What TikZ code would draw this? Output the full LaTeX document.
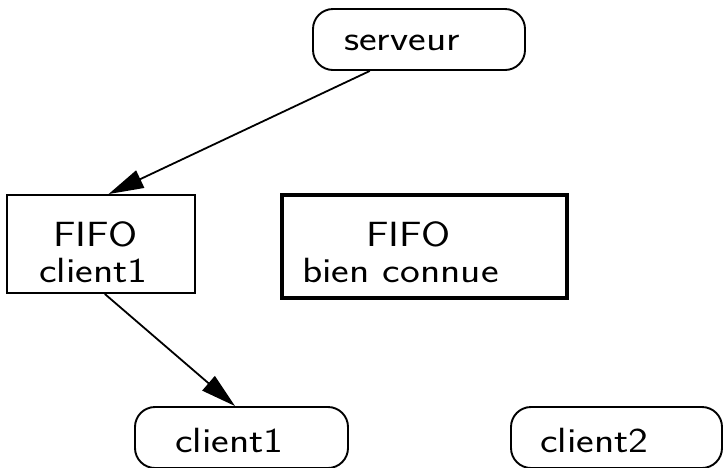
\documentclass[tikz,border=0pt]{standalone}
\usepackage{fontspec}
\usetikzlibrary{arrows.meta,calc}
\begin{document}
\begin{tikzpicture}[x=1pt,y=-1pt,
  box/.style={draw, line width=1.9pt, inner sep=0pt, minimum width=#1},
  roundbox/.style={box=#1, rounded corners=20pt, minimum height=61pt},
  label/.style={anchor=base west, inner sep=0pt, xscale=1.2,
    font=\sffamily\fontsize{35}{38}\selectfont},
  link/.style={line width=1.8pt, -{Triangle[length=35pt,width=19pt]}}]
  \useasboundingbox (0,0) rectangle (725,467);

  % processes and FIFOs
  \node[roundbox=212pt] (serveur) at (419,39.5) {};
  \node[box=188pt, minimum height=98pt] (fifo1) at (101,244) {};
  \node[box=285pt, minimum height=103pt, line width=3.9pt] (fifobc) at (424.5,246.5) {};
  \node[roundbox=213pt] (client1) at (241.5,437.5) {};
  \node[roundbox=211pt] (client2) at (616.5,437.5) {};

  % texts
  \node[label] (tserv) at (344,50) {serveur};
  \node[label] (tf1a) at (53,246) {FIFO};
  \node[label] (tf1b) at (39,282) {client1};
  \node[label] (tbca) at (366,246) {FIFO};
  \node[label] (tbcb) at (302,282) {bien connue};
  \node[label] (tc1) at (175,452) {client1};
  \node[label] (tc2) at (540,452) {client2};

  % data flow
  \draw[link] ($(serveur.south west)!0.27!(serveur.south east)$)
    -- ($(fifo1.north west)!0.54!(fifo1.north east)$);
  \draw[link] ($(fifo1.south west)!0.52!(fifo1.south east)$)
    -- ($(client1.north west)!0.47!(client1.north east)$);
\end{tikzpicture}
\end{document}
